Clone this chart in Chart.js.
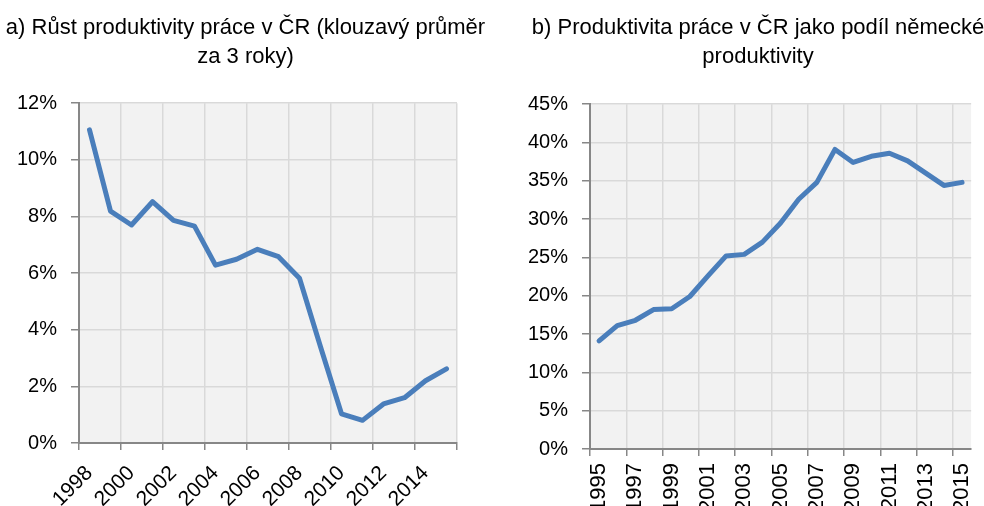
<!DOCTYPE html>
<html>
<head>
<meta charset="utf-8">
<script src="https://cdn.jsdelivr.net/npm/chart.js@4.4.0/dist/chart.umd.min.js"></script>
<style>
  html, body { margin: 0; padding: 0; background: #fff; overflow: hidden; }
  body { width: 984px; height: 506px; position: relative; }
  #left { position: absolute; left: 0; top: 0; }
  #right { position: absolute; left: 520px; top: 0; }
</style>
</head>
<body>
<canvas id="left" width="491" height="506"></canvas>
<canvas id="right" width="476" height="506"></canvas>
<script>
// chart a) - growth of labour productivity, 3y moving average (%)
const yearsA = ['1998','1999','2000','2001','2002','2003','2004','2005','2006',
                '2007','2008','2009','2010','2011','2012','2013','2014','2015'];
const growthA = [11.06, 8.19, 7.70, 8.52, 7.86, 7.66, 6.28, 6.49, 6.84,
                 6.58, 5.82, 3.40, 1.03, 0.80, 1.38, 1.60, 2.20, 2.62];

// chart b) - CZ productivity as share of German productivity (%)
const yearsB = ['1995','1996','1997','1998','1999','2000','2001','2002','2003','2004',
                '2005','2006','2007','2008','2009','2010','2011','2012','2013','2014','2015'];
const shareB = [14.1, 16.1, 16.8, 18.2, 18.3, 19.9, 22.6, 25.2, 25.4, 27.0,
                29.5, 32.6, 34.8, 39.1, 37.4, 38.2, 38.6, 37.6, 36.0, 34.4, 34.8];

const titleA = ['a) Růst produktivity práce v ČR (klouzavý průměr', 'za 3 roky)'];
const titleB = ['b) Produktivita práce v ČR jako podíl německé', 'produktivity'];

const lineColor = '#4a7ebb';
const gridColor = '#d9d9d9';
const axisColor = '#878787';
const family = "'Liberation Sans', Arial, sans-serif";

// plot area background
const plotBg = {
  id: 'plotBg',
  beforeDraw(chart) {
    const a = chart.chartArea;
    chart.ctx.save();
    chart.ctx.fillStyle = '#f2f2f2';
    chart.ctx.fillRect(a.left, a.top, a.right - a.left, a.bottom - a.top);
    chart.ctx.restore();
  }
};

// only every second category boundary gets a line
function everyOther(color, showLast) {
  return ctx => {
    if (ctx.index === undefined) return showLast ? color : 'rgba(0,0,0,0)';
    return ctx.index % 2 === 0 ? color : 'rgba(0,0,0,0)';
  };
}

function makeChart(id, labels, values, title, titleSize, titlePadBottom, yMax, yStep, rot, xFont, xPad, xHeight, yWidth, padRight, showLast) {
  return new Chart(document.getElementById(id), {
    type: 'line',
    data: {
      labels: labels,
      datasets: [{
        data: values,
        borderColor: lineColor,
        borderWidth: 5,
        borderJoinStyle: 'round',
        borderCapStyle: 'round',
        pointRadius: 0,
        tension: 0
      }]
    },
    options: {
      responsive: false,
      animation: false,
      layout: { padding: 0 },
      plugins: {
        legend: { display: false },
        tooltip: { enabled: false },
        title: {
          display: true,
          text: title,
          color: '#000',
          font: { family: family, size: titleSize, weight: 'normal', lineHeight: 1.3 },
          padding: { top: 14, bottom: titlePadBottom }
        }
      },
      scales: {
        x: {
          offset: true,
          grid: {
            offset: true,
            color: everyOther(gridColor, showLast),
            tickColor: everyOther(axisColor, showLast),
            lineWidth: 1.5,
            tickLength: 7
          },
          border: { color: axisColor, width: 2 },
          ticks: {
            autoSkip: false,
            minRotation: rot,
            maxRotation: rot,
            padding: xPad,
            color: '#000',
            font: { family: family, size: xFont },
            callback: function (v, i) { return i % 2 === 0 ? this.getLabelForValue(v) : ''; }
          },
          afterFit: s => { s.height = xHeight; }
        },
        y: {
          min: 0,
          max: yMax,
          grid: { color: gridColor, tickColor: axisColor, lineWidth: 1.5, tickLength: 8 },
          border: { color: axisColor, width: 2 },
          ticks: {
            stepSize: yStep,
            padding: 14,
            color: '#000',
            font: { family: family, size: 20 },
            callback: v => v + '%'
          },
          afterFit: s => { s.width = yWidth; }
        },
        // empty right-hand margin, keeps the title centred on the whole canvas
        margin: {
          position: 'right',
          grid: { display: false, drawTicks: false },
          border: { display: false },
          ticks: { display: false },
          afterFit: s => { s.width = padRight; }
        }
      }
    },
    plugins: [plotBg]
  });
}

makeChart('left', yearsA, growthA, titleA, 22, 32, 12, 2, 45, 21, 11, 63, 79, 34, true);
makeChart('right', yearsB, shareB, titleB, 22, 33, 45, 5, 90, 22, 7, 57, 70, 23, false);
</script>
</body>
</html>
